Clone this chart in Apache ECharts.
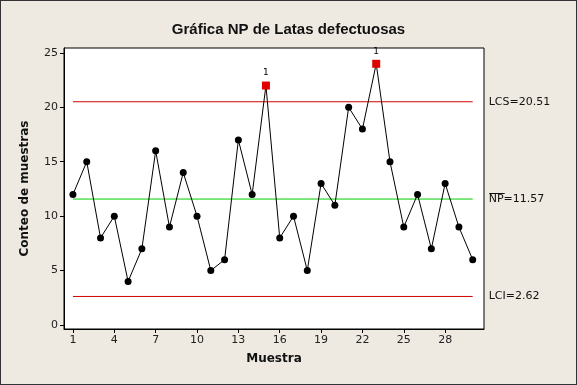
<!DOCTYPE html>
<html>
<head>
<meta charset="utf-8">
<script src="https://cdn.jsdelivr.net/npm/echarts@6/dist/echarts.min.js"></script>
<style>
html,body{margin:0;padding:0;background:#EEEAE1;}
#c{width:577px;height:385px;box-sizing:border-box;border:1px solid #333;}
</style>
</head>
<body>
<div id="c"></div>
<script>
var samples = [1,2,3,4,5,6,7,8,9,10,11,12,13,14,15,16,17,18,19,20,21,22,23,24,25,26,27,28,29,30];
var counts = [12,15,8,10,4,7,16,9,14,10,5,6,17,12,22,8,10,5,13,11,20,18,24,15,9,12,7,13,9,6];
var ucl = 20.51, center = 11.57, lcl = 2.62;
var xTicks = [1,4,7,10,13,16,19,22,25,28];
var yTicks = [0,5,10,15,20,25];

var font = 'DejaVu Sans';
var chart = echarts.init(document.getElementById('c'));
var pts = samples.map(function(s,i){
  var v = counts[i];
  if (v > ucl || v < lcl) {
    return {value:[s,v], symbol:'rect', symbolSize:8, itemStyle:{color:'#E00000'},
      label:{show:true, position:'top', formatter:'1', fontSize:9, color:'#000', fontFamily:font, distance:4}};
  }
  return {value:[s,v]};
});
function limSeries(y, color, name){
  var first = samples[0], last = samples[samples.length-1];
  return {type:'line', silent:true, symbol:'none', z:1,
    lineStyle:{color:color, width:1},
    data:[[first,y],[last,y]],
    endLabel:{show:true, formatter:name, color:'#111', fontSize:11, fontFamily:font, distance:16}};
}
chart.setOption({
  backgroundColor:'#EEEAE1',
  animation:false,
  title:{text:'Gráfica NP de Latas defectuosas', left:'center', top:16, textStyle:{fontFamily:'Liberation Sans', fontSize:15, fontWeight:'bold', color:'#111'}},
  grid:{left:63, right:92, top:47, bottom:55, show:true, backgroundColor:'#fff', borderColor:'#000', borderWidth:1},
  xAxis:{type:'value', min:0.35, max:30.82, interval:1,
    name:'Muestra', nameLocation:'middle', nameGap:24, nameTextStyle:{fontFamily:font, fontWeight:'bold', fontSize:12, color:'#111'},
    axisLine:{show:true, onZero:false, lineStyle:{color:'#000'}}, splitLine:{show:false},
    axisTick:{show:true, length:4, lineStyle:{color:'#000'}, customValues:xTicks},
    axisLabel:{fontFamily:font, fontSize:11, color:'#222', margin:6, customValues:xTicks}},
  yAxis:{type:'value', min:-0.37, max:25.45,
    name:'Conteo de muestras', nameLocation:'middle', nameGap:33, nameTextStyle:{fontFamily:font, fontWeight:'bold', fontSize:12, color:'#111'},
    axisLine:{show:true, onZero:false, lineStyle:{color:'#000'}}, splitLine:{show:false},
    axisTick:{show:true, length:4, lineStyle:{color:'#000'}, customValues:yTicks},
    axisLabel:{fontFamily:font, fontSize:11, color:'#222', margin:6, customValues:yTicks}},
  series:[
    limSeries(ucl,'#D00000','LCS='+ucl.toFixed(2)),
    limSeries(center,'#00D000','NP='+center.toFixed(2)),
    limSeries(lcl,'#D00000','LCI='+lcl.toFixed(2)),
    {type:'line', data:pts, symbol:'circle', symbolSize:7, z:3,
    itemStyle:{color:'#000'}, lineStyle:{color:'#000', width:1}}
  ]
});
var p = chart.convertToPixel({gridIndex:0}, [samples[samples.length-1], center]);
chart.setOption({graphic:[{type:'line', shape:{x1:p[0]+16.5, y1:Math.round(p[1])-5.5, x2:p[0]+32, y2:Math.round(p[1])-5.5}, style:{stroke:'#111', lineWidth:1}}]});
</script>
</body>
</html>
